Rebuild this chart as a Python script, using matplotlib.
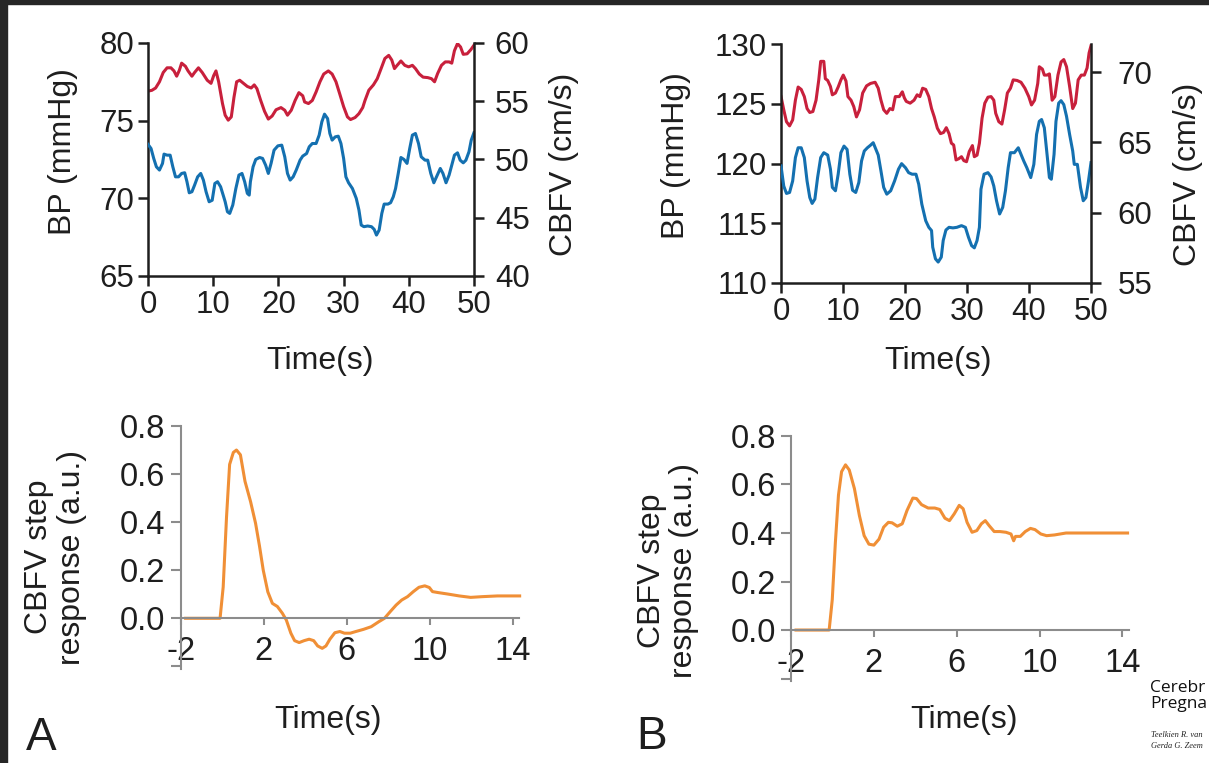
import matplotlib
matplotlib.use('Agg')
import matplotlib.pyplot as plt
from matplotlib.patches import Rectangle

plt.rcParams['font.family'] = ['Liberation Sans', 'DejaVu Sans']
plt.rcParams['axes.unicode_minus'] = False

# ---- panel A, top: BP and CBFV traces ----
a_t_bp = [0.0, 0.59, 1.17, 1.76, 2.34, 2.93, 3.52, 3.99, 4.40, 4.81,
          5.16, 5.74, 6.15, 6.74, 7.15, 7.74, 8.32, 9.09, 9.67, 10.08,
          10.43, 10.84, 11.43, 11.84, 12.31, 12.78, 13.19, 13.60, 14.07, 14.65,
          15.24, 15.83, 16.30, 16.71, 17.29, 17.88, 18.46, 19.05, 19.64, 20.40,
          20.98, 21.40, 21.98, 22.57, 23.15, 23.74, 24.03, 24.62, 25.21, 25.79,
          26.38, 26.96, 27.67, 28.25, 28.84, 29.43, 30.01, 30.60, 31.07, 31.77,
          32.36, 32.94, 33.29, 33.88, 34.58, 35.17, 35.76, 36.34, 36.93, 37.40,
          37.81, 38.22, 38.80, 39.39, 39.98, 40.56, 41.03, 41.62, 42.20, 42.91,
          43.49, 43.96, 44.43, 45.02, 45.60, 46.19, 46.60, 47.01, 47.48, 47.95,
          48.36, 48.95, 49.53, 50.0]
a_bp = [76.9, 76.95, 77.1, 77.5, 78.1, 78.4, 78.4, 78.2, 77.86, 78.24,
        78.7, 78.5, 78.2, 77.86, 78.1, 78.4, 78.1, 77.6, 77.4, 77.9,
        78.2, 77.5, 76.1, 75.35, 75.03, 75.24, 76.5, 77.5, 77.6, 77.4,
        77.2, 77.1, 77.3, 77.06, 76.3, 75.6, 75.1, 75.3, 75.7, 75.84,
        75.67, 75.35, 75.67, 76.3, 76.8, 76.6, 76.2, 76.1, 76.3, 76.85,
        77.5, 78.0, 78.2, 78.0, 77.5, 76.7, 75.9, 75.24, 75.07, 75.2,
        75.45, 75.84, 76.3, 76.96, 77.3, 77.7, 78.35, 79.0, 79.2, 78.9,
        78.35, 78.56, 78.84, 78.56, 78.46, 78.56, 78.35, 78.0, 77.8, 77.77,
        77.7, 77.5, 78.03, 78.56, 78.78, 78.78, 78.7, 79.5, 79.96, 79.74,
        79.27, 79.3, 79.57, 79.85]

a_t_cbfv = [0.0, 0.47, 0.88, 1.29, 1.76, 2.23, 2.46, 2.93, 3.40, 3.81, 4.22,
            4.69, 5.16, 5.63, 5.98, 6.33, 6.74, 7.15, 7.62, 8.09, 8.50,
            8.91, 9.38, 9.85, 10.26, 10.67, 11.14, 11.61, 11.84, 12.19, 12.54,
            13.01, 13.48, 13.95, 14.42, 14.83, 15.24, 15.53, 15.71, 16.12, 16.53,
            17.12, 17.58, 18.05, 18.46, 18.88, 19.34, 19.93, 20.52, 20.98, 21.40,
            21.81, 22.27, 22.74, 23.33, 23.74, 24.33, 24.74, 25.21, 25.79, 26.26,
            26.67, 27.08, 27.55, 27.90, 28.25, 28.72, 29.19, 29.60, 30.01, 30.36,
            30.77, 31.36, 31.95, 32.36, 32.71, 33.12, 33.70, 34.29, 34.70, 35.05,
            35.46, 35.87, 36.23, 36.81, 37.22, 37.63, 37.98, 38.39, 38.80, 39.27,
            39.74, 40.15, 40.56, 41.03, 41.50, 41.91, 42.50, 42.91, 43.38, 43.85,
            44.26, 44.84, 45.25, 45.72, 46.19, 46.60, 47.01, 47.48, 47.89, 48.36,
            48.77, 49.24, 49.59, 50.0]
a_cbfv = [51.3, 50.94, 50.09, 49.37, 49.09, 49.66, 50.46, 50.37, 50.37, 49.37, 48.51,
          48.51, 48.8, 48.86, 48.09, 47.14, 47.23, 47.8, 48.51, 48.8, 48.23,
          47.23, 46.37, 46.5, 47.94, 48.09, 47.66, 46.8, 46.37, 45.51, 45.37,
          46.09, 47.51, 48.66, 48.8, 48.09, 47.09, 46.94, 48.09, 49.37, 50.0,
          50.17, 50.09, 49.51, 48.8, 49.66, 50.8, 51.17, 51.23, 50.23, 48.8,
          48.23, 48.51, 49.09, 49.94, 50.29, 50.51, 51.09, 51.37, 51.37, 52.09,
          53.23, 53.89, 53.51, 52.23, 51.66, 51.94, 52.0, 51.37, 50.09, 48.51,
          48.0, 47.51, 46.66, 45.66, 44.37, 44.23, 44.29, 44.23, 44.0, 43.51,
          43.94, 45.37, 46.17, 46.17, 46.29, 46.8, 47.51, 48.8, 50.17, 50.0,
          49.66, 50.94, 52.09, 52.23, 51.37, 50.23, 49.94, 49.94, 48.8, 48.0,
          48.51, 49.23, 48.8, 48.0, 48.66, 49.51, 50.37, 50.57, 49.94, 49.71,
          49.94, 50.66, 51.66, 52.29]

# ---- panel B, top ----
b_t_bp = [0.0, 0.44, 0.88, 1.38, 1.88, 2.32, 2.76, 3.26, 3.76, 4.20,
          4.64, 5.14, 5.65, 6.09, 6.40, 6.90, 7.15, 7.53, 7.97, 8.28,
          8.78, 9.22, 9.66, 10.04, 10.48, 10.79, 11.29, 11.73, 12.17, 12.67,
          13.17, 13.80, 14.43, 15.18, 15.68, 16.12, 16.56, 17.06, 17.57, 18.01,
          18.44, 19.07, 19.57, 19.89, 20.20, 20.83, 21.46, 21.96, 22.40, 22.84,
          23.34, 23.84, 24.28, 24.72, 25.22, 25.72, 26.22, 26.66, 27.10, 27.48,
          27.85, 28.23, 28.67, 29.11, 29.49, 29.92, 30.36, 30.87, 31.18, 31.62,
          32.00, 32.43, 32.87, 33.38, 33.88, 34.32, 34.63, 35.13, 35.63, 36.07,
          36.51, 37.01, 37.45, 38.08, 38.71, 39.34, 39.96, 40.40, 40.90, 41.41,
          41.66, 42.16, 42.47, 42.91, 43.29, 43.73, 44.17, 44.67, 45.17, 45.61,
          46.05, 46.55, 47.05, 47.49, 47.93, 48.43, 48.93, 49.37, 49.69, 50.0]
b_bp = [125.6, 124.5, 123.5, 123.15, 123.65, 125.3, 126.4, 126.2, 125.6, 124.6,
        124.27, 124.35, 125.3, 127.0, 128.55, 128.55, 127.1, 126.95, 126.45, 125.75,
        125.9, 126.4, 127.0, 127.4, 126.9, 125.6, 125.3, 124.77, 123.9, 124.5,
        125.9, 126.5, 126.7, 126.8, 126.3, 125.3, 124.5, 124.2, 124.6, 124.5,
        125.6, 125.6, 126.0, 125.5, 125.2, 125.05, 125.3, 125.75, 125.6, 126.3,
        126.2, 125.6, 124.6, 123.9, 122.95, 122.5, 122.6, 123.0, 122.5, 121.7,
        121.55, 120.3, 120.4, 120.57, 120.24, 120.15, 121.0, 121.5, 120.57, 120.7,
        121.7, 123.8, 125.05, 125.55, 125.6, 125.3, 124.2, 123.5, 123.3, 124.5,
        125.9, 126.3, 127.0, 126.95, 126.8, 126.3, 125.6, 124.9, 125.3, 126.7,
        128.1, 127.9, 127.4, 127.4, 127.5, 125.3, 125.6, 127.4, 128.5, 128.7,
        128.1, 126.45, 124.6, 125.05, 127.0, 127.4, 127.4, 128.0, 129.25, 129.86]

b_t_cbfv = [0.0, 0.44, 0.88, 1.38, 1.88, 2.32, 2.76, 3.26, 3.76, 4.20,
            4.64, 5.02, 5.46, 5.90, 6.40, 6.90, 7.53, 7.97, 8.28, 8.78,
            9.22, 9.66, 10.16, 10.66, 11.10, 11.54, 12.05, 12.55, 12.99, 13.43,
            13.93, 14.43, 14.87, 15.31, 15.68, 16.12, 16.56, 17.06, 17.69, 18.32,
            18.95, 19.45, 20.08, 20.58, 21.14, 21.77, 22.21, 22.71, 23.34, 23.84,
            24.28, 24.47, 24.91, 25.35, 25.85, 26.16, 26.60, 27.10, 27.73, 28.36,
            29.11, 29.74, 30.24, 30.74, 31.18, 31.62, 32.00, 32.25, 32.75, 33.38,
            33.88, 34.32, 34.76, 35.26, 35.76, 36.20, 36.64, 37.01, 37.64, 38.27,
            38.71, 39.15, 39.65, 40.28, 40.78, 41.22, 41.66, 42.03, 42.47, 42.91,
            43.29, 43.60, 44.04, 44.35, 44.79, 45.17, 45.61, 46.05, 46.55, 47.05,
            47.30, 47.80, 48.31, 48.75, 49.18, 49.56, 50.0]
b_cbfv = [63.33, 61.9, 61.37, 61.44, 62.26, 63.92, 64.62, 64.62, 63.92, 62.26,
          61.08, 60.66, 60.97, 62.5, 63.92, 64.27, 64.1, 63.1, 61.8, 61.56,
          62.74, 64.27, 64.74, 64.5, 62.74, 61.6, 61.44, 62.15, 63.68, 64.39,
          64.62, 64.8, 64.98, 64.5, 64.1, 62.97, 61.8, 61.32, 61.56, 62.26,
          63.1, 63.49, 63.2, 62.85, 62.74, 62.74, 62.03, 60.61, 59.43, 58.96,
          58.73, 57.55, 56.72, 56.49, 56.84, 58.02, 58.77, 58.96, 58.92, 58.96,
          59.08, 58.96, 58.25, 57.66, 57.5, 58.02, 58.96, 61.67, 62.74, 62.85,
          62.55, 61.9, 60.85, 59.91, 60.38, 61.56, 63.2, 64.27, 64.27, 64.62,
          64.15, 63.68, 63.2, 62.5, 63.44, 65.57, 66.5, 66.63, 66.04, 64.15,
          62.5, 62.38, 64.15, 66.5, 67.8, 67.97, 67.69, 66.86, 65.57, 64.39,
          63.44, 63.44, 61.8, 60.85, 61.08, 62.15, 63.56]

# ---- step responses ----
a_t_step = [-1.76, -0.1, 0.05, 0.21, 0.36, 0.54, 0.69, 0.88, 1.1, 1.37,
            1.61, 1.8, 1.98, 2.2, 2.42, 2.66, 2.9, 3.09, 3.31, 3.49,
            3.71, 3.95, 4.19, 4.41, 4.6, 4.82, 5.0, 5.19, 5.43, 5.67,
            5.89, 6.17, 6.44, 6.81, 7.18, 7.55, 7.82, 8.1, 8.38, 8.65,
            8.93, 9.21, 9.48, 9.76, 9.98, 10.13, 10.4, 10.86, 11.42, 11.97,
            12.53, 13.26, 14.33]
a_step = [0, 0, 0.13, 0.42, 0.64, 0.69, 0.70, 0.68, 0.57, 0.485,
          0.395, 0.30, 0.20, 0.11, 0.062, 0.049, 0.021, -0.007, -0.062, -0.093,
          -0.101, -0.093, -0.087, -0.093, -0.115, -0.125, -0.115, -0.087, -0.06, -0.055,
          -0.062, -0.062, -0.055, -0.046, -0.035, -0.014, 0.0, 0.028, 0.055, 0.076,
          0.09, 0.111, 0.129, 0.135, 0.128, 0.111, 0.107, 0.101, 0.093, 0.087,
          0.09, 0.093, 0.093]

b_t_step = [-1.76, -0.16, -0.01, 0.14, 0.29, 0.44, 0.63, 0.81, 1.06, 1.3,
            1.53, 1.76, 2.0, 2.25, 2.47, 2.7, 2.88, 3.13, 3.37, 3.6,
            3.88, 4.06, 4.3, 4.62, 4.94, 5.18, 5.43, 5.65, 5.88, 6.12,
            6.31, 6.5, 6.74, 6.97, 7.19, 7.38, 7.57, 7.81, 8.09, 8.38,
            8.62, 8.75, 8.84, 9.07, 9.31, 9.56, 9.78, 10.06, 10.34, 10.72,
            11.28, 12.22, 13.16, 14.25]
b_step = [0, 0, 0.125, 0.361, 0.556, 0.653, 0.681, 0.66, 0.583, 0.472,
          0.389, 0.354, 0.35, 0.375, 0.424, 0.444, 0.442, 0.428, 0.438, 0.493,
          0.544, 0.542, 0.517, 0.503, 0.503, 0.497, 0.461, 0.451, 0.479, 0.514,
          0.5, 0.444, 0.403, 0.41, 0.438, 0.451, 0.43, 0.406, 0.406, 0.403,
          0.396, 0.368, 0.386, 0.386, 0.406, 0.419, 0.414, 0.396, 0.389, 0.392,
          0.4, 0.4, 0.4, 0.4]

trace_ticks = [0, 10, 20, 30, 40, 50]
step_xticks = [-2, 2, 6, 10, 14]
step_yticks = [-0.2, 0.0, 0.2, 0.4, 0.6, 0.8]
step_ylabels = ['', '0.0', '0.2', '0.4', '0.6', '0.8']

RED = '#c8203c'
BLUE = '#1470b0'
ORANGE = '#f08f36'
INK = '#1e1e1e'
GREY = '#8c8c8c'

fig = plt.figure(figsize=(12.09, 7.63), dpi=100)
fig.patch.set_facecolor('white')
# dark frame of the screenshot
fig.patches.append(Rectangle((0, 0), 7 / 1209, 1, transform=fig.transFigure,
                             color='#262626', zorder=0))
fig.patches.append(Rectangle((0, 1 - 4 / 763), 1, 4 / 763, transform=fig.transFigure,
                             color='#262626', zorder=0))


def trace_panel(rect, t_bp, bp, t_cb, cb, bp_lim, bp_ticks, cb_lim, cb_ticks,
                lab_pos, rlab_pos, xlab_pos, rpad):
    ax = fig.add_axes(rect)
    tw = ax.twinx()
    ax.plot(t_bp, bp, color=RED, lw=2.2, solid_joinstyle='round')
    tw.plot(t_cb, cb, color=BLUE, lw=2.2, solid_joinstyle='round')
    ax.set_xlim(0, 50)
    ax.set_ylim(*bp_lim)
    tw.set_ylim(*cb_lim)
    ax.set_xticks(trace_ticks)
    ax.set_yticks(bp_ticks)
    tw.set_yticks(cb_ticks)
    for a in (ax, tw):
        a.spines['top'].set_visible(False)
        for s in a.spines.values():
            s.set_linewidth(1.8)
            s.set_color(INK)
        a.tick_params(length=7, width=1.8, color=INK, labelsize=22.5,
                      labelcolor=INK, pad=3)
    ax.spines['right'].set_visible(False)
    tw.spines['left'].set_visible(False)
    tw.spines['bottom'].set_visible(False)
    tw.tick_params(axis='y', pad=rpad)
    ax.set_ylabel('BP (mmHg)', fontsize=23, color=INK, va='center', ha='center')
    ax.yaxis.set_label_coords(*lab_pos)
    tw.set_ylabel('CBFV (cm/s)', fontsize=23, color=INK, va='center', ha='center',
                  rotation=90)
    tw.yaxis.set_label_coords(*rlab_pos)
    ax.set_xlabel('Time(s)', fontsize=23, color=INK)
    ax.xaxis.set_label_coords(*xlab_pos)
    return ax


def step_panel(rect, t, v, lab_pos, xlab_pos):
    ax = fig.add_axes(rect)
    ax.plot(t, v, color=ORANGE, lw=2.2, solid_joinstyle='round', clip_on=False)
    ax.set_xlim(-2, 14.3)
    ax.set_ylim(-0.21, 0.8)
    ax.set_xticks(step_xticks)
    ax.set_yticks(step_yticks)
    ax.set_yticklabels(step_ylabels)
    ax.spines['top'].set_visible(False)
    ax.spines['right'].set_visible(False)
    ax.spines['bottom'].set_position(('data', 0))
    for s in ax.spines.values():
        s.set_linewidth(1.5)
        s.set_color(GREY)
    ax.tick_params(axis='y', length=7, width=1.5, color=GREY, labelsize=23.5,
                   labelcolor=INK, pad=4)
    ax.tick_params(axis='x', length=5, width=1.5, color=GREY, labelsize=23.5,
                   labelcolor=INK, pad=8)
    ax.set_ylabel('CBFV step\nresponse (a.u.)', fontsize=23, color=INK,
                  va='center', ha='center', linespacing=1.1)
    ax.yaxis.set_label_coords(*lab_pos)
    ax.set_xlabel('Time(s)', fontsize=23, color=INK)
    ax.xaxis.set_label_coords(*xlab_pos)
    return ax


trace_panel([0.1224, 0.6383, 0.2696, 0.3054], a_t_bp, a_bp, a_t_cbfv, a_cbfv,
            (65, 80), [65, 70, 75, 80], (40, 60), [40, 45, 50, 55, 60],
            (-0.26, 0.534), (1.276, 0.48), (0.528, -0.30), 8)
trace_panel([0.6460, 0.6291, 0.2564, 0.3132], b_t_bp, b_bp, b_t_cbfv, b_cbfv,
            (110, 130), [110, 115, 120, 125, 130], (55, 72), [55, 60, 65, 70],
            (-0.339, 0.535), (1.313, 0.454), (0.506, -0.265), 12)

step_panel([0.1494, 0.1235, 0.2799, 0.3182], a_t_step, a_step,
           (-0.37, 0.46), (0.436, -0.149))
step_panel([0.6543, 0.1075, 0.2792, 0.3211], b_t_step, b_step,
           (-0.364, 0.449), (0.513, -0.098))

fig.text(26 / 1209, 1 - 750 / 763, 'A', fontsize=33, color=INK, ha='left', va='baseline')
fig.text(636 / 1209, 1 - 749 / 763, 'B', fontsize=33, color=INK, ha='left', va='baseline')

fig.text(1150 / 1209, 1 - 692 / 763, 'Cerebr', fontsize=12.5, color='#111111',
         family=['Open Sans', 'DejaVu Sans'], weight='medium', ha='left', va='baseline')
fig.text(1150 / 1209, 1 - 708 / 763, 'Pregna', fontsize=12.5, color='#111111',
         family=['Open Sans', 'DejaVu Sans'], weight='medium', ha='left', va='baseline')
fig.text(1151 / 1209, 1 - 737 / 763, 'Teelkien R. van', fontsize=6, color='#222222',
         family=['Liberation Serif', 'DejaVu Serif'], style='italic', ha='left',
         va='baseline')
fig.text(1151 / 1209, 1 - 748 / 763, 'Gerda G. Zeem', fontsize=6, color='#222222',
         family=['Liberation Serif', 'DejaVu Serif'], style='italic', ha='left',
         va='baseline')

fig.savefig('out.png', dpi=100, facecolor=fig.get_facecolor())
